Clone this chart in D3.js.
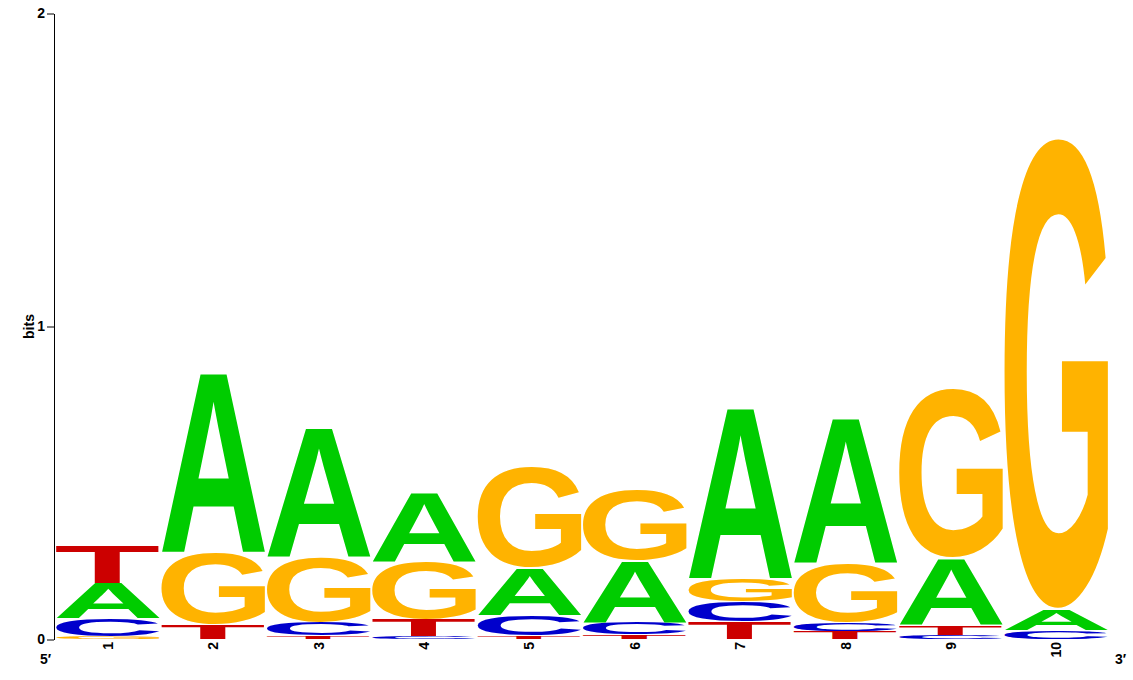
<!DOCTYPE html>
<html>
<head>
<meta charset="utf-8">
<script src="https://d3js.org/d3.v7.min.js"></script>
<style>
  body { margin: 0; background: #fff; }
  svg text { font-family: "Liberation Sans", Arial, Helvetica, sans-serif; font-weight: bold; }
</style>
</head>
<body>
<div id="logo"></div>
<script>
// positions along the motif and information content (bits) per base
var positions = ["1", "2", "3", "4", "5", "6", "7", "8", "9", "10"];
var bitsA = [0.114, 0.579, 0.417, 0.222, 0.153, 0.199, 0.550, 0.470, 0.216, 0.069];
var bitsC = [0.058, 0.000, 0.043, 0.008, 0.065, 0.039, 0.064, 0.029, 0.013, 0.030];
var bitsG = [0.008, 0.231, 0.208, 0.183, 0.324, 0.226, 0.073, 0.189, 0.543, 1.504];
var bitsT = [0.122, 0.048, 0.011, 0.058, 0.011, 0.016, 0.057, 0.026, 0.033, 0.000];
var yTicks = [0, 1, 2];

var bases = ["A", "C", "G", "T"];
var baseColors = {
  A: "#00CC00",
  C: "#0000CC",
  G: "#FFB300",
  T: "#CC0000"
};

var width = 1133,
  height = 680,
  left = 56,
  right = 1108.5,
  baseY = 639.5,
  topY = 13.5,
  labelSize = "14px";

var svg = d3.select("#logo")
  .append("svg")
  .attr("width", width)
  .attr("height", height);

var x = d3.scaleBand()
  .domain(positions)
  .range([left, right])
  .paddingInner(0.012);

var y = d3.scaleLinear()
  .domain([0, 2])
  .range([baseY, topY]);

// ink box of each glyph, measured once on a canvas
var ctx = document.createElement("canvas").getContext("2d");
ctx.font = "bold 100px 'Liberation Sans'";
var ink = {};
bases.forEach(function(b) {
  var m = ctx.measureText(b);
  ink[b] = {
    l: -m.actualBoundingBoxLeft,
    r: m.actualBoundingBoxRight,
    t: -m.actualBoundingBoxAscent,
    b: m.actualBoundingBoxDescent
  };
});

// stack the letters of every column, smallest at the bottom
var glyphs = [];
positions.forEach(function(p, i) {
  var col = [
    { base: "A", bits: bitsA[i] },
    { base: "C", bits: bitsC[i] },
    { base: "G", bits: bitsG[i] },
    { base: "T", bits: bitsT[i] }
  ].filter(function(d) { return d.bits > 0; })
    .sort(function(a, b) { return a.bits - b.bits; });
  var acc = 0;
  col.forEach(function(d) {
    glyphs.push({ pos: p, base: d.base, y0: acc, y1: acc + d.bits });
    acc += d.bits;
  });
});

svg.append("g")
  .selectAll("text")
  .data(glyphs)
  .enter()
  .append("text")
  .attr("x", 0)
  .attr("y", 0)
  .style("font-size", "100px")
  .attr("fill", function(d) { return baseColors[d.base]; })
  .attr("transform", function(d) {
    var g = ink[d.base];
    var slot = y(d.y0) - y(d.y1);
    var inset = Math.min(1, slot * 0.15);
    var h = slot - inset;
    var w = x.bandwidth();
    var top = y(d.y1) + inset / 2;
    return "translate(" + x(d.pos) + "," + top + ")" +
      " scale(" + (w / (g.r - g.l)) + "," + (h / (g.b - g.t)) + ")" +
      " translate(" + (-g.l) + "," + (-g.t) + ")";
  })
  .text(function(d) { return d.base; });

// y axis
var yAxis = svg.append("g")
  .attr("transform", "translate(54,0)")
  .call(d3.axisLeft(y)
    .tickValues(yTicks)
    .tickFormat(d3.format("d"))
    .tickSize(7)
    .tickSizeOuter(0)
    .tickPadding(2));
yAxis.attr("font-size", null).attr("font-family", null);
yAxis.selectAll("text")
  .style("font-size", labelSize)
  .style("font-weight", "bold")
  .attr("fill", "#000");
yAxis.selectAll("line, path").attr("stroke", "#000");

svg.append("text")
  .attr("transform", "translate(34," + y(1) + ") rotate(-90)")
  .attr("text-anchor", "middle")
  .style("font-size", labelSize)
  .text("bits");

// position labels, rotated
svg.append("g")
  .selectAll("text")
  .data(positions)
  .enter()
  .append("text")
  .attr("transform", function(d) {
    return "translate(" + (x(d) + x.bandwidth() / 2) + ",642) rotate(-90)";
  })
  .attr("text-anchor", "end")
  .attr("dy", "0.35em")
  .style("font-size", labelSize)
  .text(function(d) { return d; });

svg.append("text")
  .attr("x", 40)
  .attr("y", 664)
  .style("font-size", labelSize)
  .text("5\u2032");

svg.append("text")
  .attr("x", 1115)
  .attr("y", 664)
  .style("font-size", labelSize)
  .text("3\u2032");
</script>
</body>
</html>
